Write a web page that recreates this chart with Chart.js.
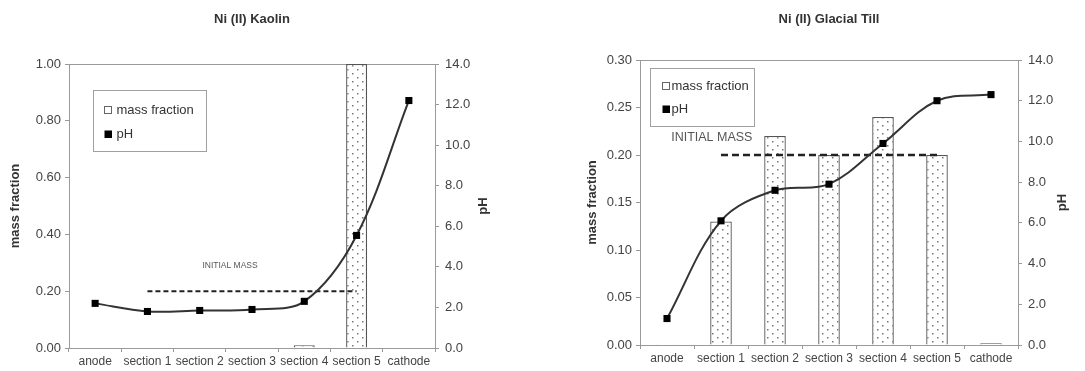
<!DOCTYPE html>
<html>
<head>
<meta charset="utf-8">
<script src="https://cdn.jsdelivr.net/npm/chart.js@4.4.1/dist/chart.umd.min.js"></script>
<style>
  html, body { margin: 0; padding: 0; background: #fff; }
  #wrap { position: relative; width: 1085px; height: 371px; }
  canvas { position: absolute; top: 0; }
  #kaolin { left: 0; }
  #till { left: 545px; }
</style>
</head>
<body>
<div id="wrap">
  <canvas id="kaolin" width="540" height="371"></canvas>
  <canvas id="till" width="540" height="371"></canvas>
</div>
<script>
// categories along the column
const categories = ['anode', 'section 1', 'section 2', 'section 3', 'section 4', 'section 5', 'cathode'];

// Ni (II) Kaolin
const kaolinMass = [0, 0, 0, 0, 0.01, 1.00, 0.002];
const kaolinPH = [2.2, 1.8, 1.85, 1.9, 2.3, 5.55, 12.2];

// Ni (II) Glacial Till
const tillMass = [0.0008, 0.13, 0.22, 0.20, 0.24, 0.20, 0.0018];
const tillPH = [1.3, 6.1, 7.6, 7.9, 9.9, 12.0, 12.3];

// initial mass level (section 1 .. section 5)
const initialMass = [null, 0.2, 0.2, 0.2, 0.2, 0.2, null];

// axis ranges
const kaolinMassAxis = { max: 1.0, step: 0.2 };
const tillMassAxis = { max: 0.3, step: 0.05 };
const phAxis = { max: 14, step: 2 };

Chart.defaults.font.family = "'Liberation Sans', Arial, sans-serif";
Chart.defaults.color = '#444';

// dotted fill for the bars
function makeDots() {
  const c = document.createElement('canvas');
  c.width = 10; c.height = 8;
  const g = c.getContext('2d');
  g.fillStyle = '#fff';
  g.fillRect(0, 0, 10, 8);
  g.fillStyle = '#777';
  g.fillRect(2, 1, 1.5, 1.5);
  g.fillRect(7, 5, 1.5, 1.5);
  return g.createPattern(c, 'repeat');
}
const dots = makeDots();

// frame, titles, legend box and "INITIAL MASS" text
const decor = {
  id: 'decor',
  beforeDatasetsDraw(chart, args, o) {
    const ca = chart.chartArea, ctx = chart.ctx;
    ctx.save();
    ctx.strokeStyle = '#9a9a9a';
    ctx.lineWidth = 1;
    ctx.strokeRect(Math.round(ca.left) + 0.5, Math.round(ca.top) + 0.5, Math.round(ca.right - ca.left), Math.round(ca.bottom - ca.top));
    ctx.restore();
  },
  afterDraw(chart, args, o) {
    const ca = chart.chartArea, ctx = chart.ctx;
    const mid = (ca.top + ca.bottom) / 2;
    ctx.save();
    ctx.fillStyle = '#333';
    ctx.textAlign = 'center';
    ctx.textBaseline = 'middle';

    // title
    ctx.font = "bold 13px 'Liberation Sans', Arial, sans-serif";
    ctx.fillText(o.title, (ca.left + ca.right) / 2, 19);

    // axis titles, both read bottom to top
    ctx.save();
    ctx.translate(ca.left - o.leftTitleGap, mid);
    ctx.rotate(-Math.PI / 2);
    ctx.fillText('mass fraction', 0, 0);
    ctx.restore();
    ctx.save();
    ctx.translate(ca.right + o.rightTitleGap, mid);
    ctx.rotate(-Math.PI / 2);
    ctx.fillText('pH', 0, 0);
    ctx.restore();

    // INITIAL MASS label
    const xs = chart.scales.x, ys = chart.scales.y;
    ctx.fillStyle = '#555';
    ctx.font = o.label.size + "px 'Liberation Sans', Arial, sans-serif";
    ctx.fillText('INITIAL MASS', xs.getPixelForValue(o.label.at), ys.getPixelForValue(initialMass[1]) + o.label.dy);

    // legend
    const L = o.legend;
    const bx = Math.round(ca.left + L.dx) + 0.5, by = Math.round(ca.top + L.dy) + 0.5;
    ctx.strokeStyle = '#a0a0a0';
    ctx.lineWidth = 1;
    ctx.strokeRect(bx, by, L.w, L.h);
    ctx.font = "13px 'Liberation Sans', Arial, sans-serif";
    ctx.textAlign = 'left';
    ctx.fillStyle = '#fff';
    ctx.fillRect(bx + L.mx, by + L.r1 - 4, 7, 7);
    ctx.strokeStyle = '#666';
    ctx.strokeRect(bx + L.mx, by + L.r1 - 4, 7, 7);
    ctx.fillStyle = '#000';
    ctx.fillRect(bx + L.mx, by + L.r2 - 4, 7.5, 7.5);
    ctx.fillStyle = '#333';
    ctx.fillText('mass fraction', bx + L.tx, by + L.r1);
    ctx.fillText('pH', bx + L.tx, by + L.r2);
    ctx.restore();
  }
};

function buildChart(id, mass, ph, massAxis, lay) {
  return new Chart(document.getElementById(id), {
    type: 'bar',
    data: {
      labels: categories,
      datasets: [
        {
          type: 'line', label: 'pH', data: ph, yAxisID: 'yPH',
          borderColor: '#333', borderWidth: 2, tension: 0.35,
          pointStyle: 'rect', pointRadius: 5,
          pointBackgroundColor: '#000', pointBorderColor: '#000', pointBorderWidth: 0,
          order: 0
        },
        {
          type: 'line', label: 'initial mass', data: initialMass, yAxisID: 'y',
          borderColor: '#222', borderWidth: lay.dashWidth, borderDash: lay.dash,
          pointRadius: 0, tension: 0, order: 1
        },
        {
          label: 'mass fraction', data: mass, yAxisID: 'y',
          backgroundColor: dots, borderColor: '#555', borderWidth: 1.3,
          barPercentage: 0.4, categoryPercentage: 1, order: 2
        }
      ]
    },
    options: {
      responsive: false,
      animation: false,
      layout: { padding: { top: lay.top, left: 0, right: 0, bottom: 0 } },
      plugins: {
        legend: { display: false },
        tooltip: { enabled: false },
        decor: lay.decor
      },
      scales: {
        x: {
          grid: { drawOnChartArea: false, drawTicks: true, tickLength: 4, color: '#9a9a9a', offset: true },
          border: { color: '#9a9a9a' },
          ticks: { autoSkip: false, maxRotation: 0, padding: 2, font: { size: 12 }, color: '#444' },
          afterFit: s => { s.height = lay.xHeight; }
        },
        y: {
          position: 'left', min: 0, max: massAxis.max,
          grid: { drawOnChartArea: false, tickLength: 4, color: '#9a9a9a' },
          border: { color: '#9a9a9a' },
          ticks: {
            stepSize: massAxis.step, padding: 4, font: { size: 13 }, color: '#444',
            callback: v => Number(v).toFixed(2)
          },
          afterFit: s => { s.width = lay.leftWidth; }
        },
        yPH: {
          position: 'right', min: 0, max: phAxis.max,
          grid: { drawOnChartArea: false, tickLength: 4, color: '#9a9a9a' },
          border: { color: '#9a9a9a' },
          ticks: {
            stepSize: phAxis.step, padding: 6, font: { size: 13 }, color: '#444',
            callback: v => Number(v).toFixed(1)
          },
          afterFit: s => { s.width = lay.rightWidth; }
        }
      }
    },
    plugins: [decor]
  });
}

buildChart('kaolin', kaolinMass, kaolinPH, kaolinMassAxis, {
  top: 64, xHeight: 23, leftWidth: 69, rightWidth: 105,
  dash: [5, 3], dashWidth: 2,
  decor: {
    title: 'Ni (II) Kaolin', leftTitleGap: 54, rightTitleGap: 48,
    label: { at: 2.58, dy: -26, size: 8.5 },
    legend: { dx: 24, dy: 26, w: 113, h: 61, mx: 11, tx: 23, r1: 20, r2: 44 }
  }
});

buildChart('till', tillMass, tillPH, tillMassAxis, {
  top: 60, xHeight: 26, leftWidth: 95, rightWidth: 67,
  dash: [7, 4], dashWidth: 2.6,
  decor: {
    title: 'Ni (II) Glacial Till', leftTitleGap: 48, rightTitleGap: 44,
    label: { at: 0.83, dy: -17, size: 12.5 },
    legend: { dx: 10, dy: 8, w: 104, h: 58, mx: 12, tx: 21, r1: 18, r2: 41 }
  }
});
</script>
</body>
</html>
